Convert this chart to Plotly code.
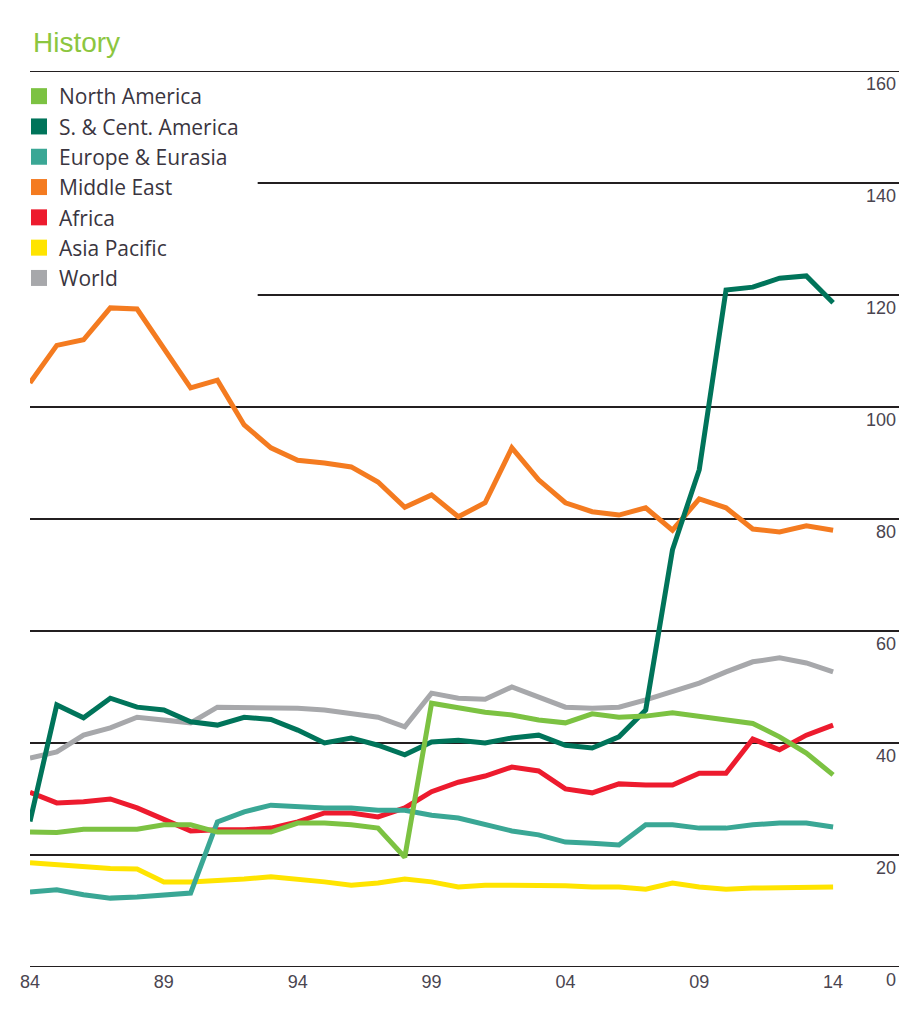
import plotly.graph_objects as go

years = list(range(1984, 2015))

north_america = [24.1, 24.0, 24.6, 24.6, 24.6, 25.4, 25.4, 24.1, 24.1, 24.1, 25.7, 25.7, 25.4, 24.8, 19.6,
                 47.1, 46.3, 45.5, 45.0, 44.1, 43.6, 45.2, 44.6, 44.8, 45.4, 44.7, 44.2, 43.5, 41.1, 38.2, 34.3]
sc_america = [26.0, 46.8, 44.5, 48.0, 46.4, 45.9, 43.8, 43.2, 44.6, 44.2, 42.3, 40.0, 40.9, 39.6, 37.9,
              40.2, 40.5, 40.0, 40.9, 41.4, 39.6, 39.1, 41.1, 45.9, 74.5, 88.8, 120.9, 121.4, 123.0, 123.4, 118.6]
europe_eurasia = [13.4, 13.8, 12.9, 12.3, 12.5, 12.9, 13.2, 25.9, 27.7, 28.9, 28.6, 28.4, 28.4, 28.0, 28.0,
                  27.1, 26.6, 25.4, 24.3, 23.6, 22.3, 22.1, 21.8, 25.4, 25.4, 24.8, 24.8, 25.4, 25.7, 25.7, 25.0]
middle_east = [104.3, 111.0, 112.0, 117.7, 117.5, 110.5, 103.4, 104.8, 96.8, 92.7, 90.5, 90.0, 89.3, 86.6, 82.1,
               84.3, 80.4, 82.9, 92.7, 87.0, 82.9, 81.3, 80.7, 82.0, 78.0, 83.6, 82.0, 78.2, 77.7, 78.8, 78.0]
africa = [31.2, 29.3, 29.5, 30.0, 28.4, 26.3, 24.3, 24.5, 24.5, 24.8, 25.9, 27.5, 27.5, 26.8, 28.4,
          31.3, 33.0, 34.1, 35.7, 35.0, 31.8, 31.1, 32.7, 32.5, 32.5, 34.6, 34.6, 40.7, 38.8, 41.4, 43.2]
asia_pacific = [18.6, 18.2, 17.9, 17.6, 17.5, 15.2, 15.2, 15.4, 15.7, 16.1, 15.7, 15.2, 14.6, 15.0, 15.7,
                15.2, 14.3, 14.6, 14.6, 14.6, 14.5, 14.3, 14.3, 13.9, 15.0, 14.3, 13.9, 14.1, 14.1, 14.3, 14.3]
world = [37.3, 38.4, 41.4, 42.7, 44.6, 44.1, 43.6, 46.4, 46.4, 46.4, 46.2, 45.9, 45.3, 44.6, 42.9,
         48.9, 48.0, 47.8, 50.0, 48.2, 46.4, 46.2, 46.4, 47.7, 49.2, 50.7, 52.7, 54.5, 55.2, 54.3, 52.7]

series_names = ["North America", "S. & Cent. America", "Europe & Eurasia", "Middle East",
                "Africa", "Asia Pacific", "World"]
series_values = [north_america, sc_america, europe_eurasia, middle_east, africa, asia_pacific, world]
series_colors = ["#7cc242", "#00745a", "#3aa795", "#f47b20", "#ed1b2e", "#ffe400", "#a7a8ab"]

x_tick_years = [1984, 1989, 1994, 1999, 2004, 2009, 2014]
x_tick_labels = ["84", "89", "94", "99", "04", "09", "14"]
y_tick_values = [0, 20, 40, 60, 80, 100, 120, 140, 160]
y_tick_labels = ["0", "20", "40", "60", "80", "100", "120", "140", "160"]

FONT = "Liberation Sans, Arial, sans-serif"
LEGEND_FONT = "Open Sans, Liberation Sans, Arial, sans-serif"
TICK_COLOR = "#4a4550"

fig = go.Figure()

draw_order = [6, 5, 4, 2, 3, 1, 0]
for i in draw_order:
    fig.add_trace(go.Scatter(
        x=years, y=series_values[i], mode="lines", name=series_names[i],
        line=dict(color=series_colors[i], width=5), showlegend=False,
        hoverinfo="x+y+name"))

for name, color in zip(series_names, series_colors):
    fig.add_trace(go.Scatter(
        x=[None], y=[None], mode="markers", name=name,
        marker=dict(symbol="square", size=18, color=color), showlegend=True))

# horizontal rules (the 120 and 140 rules stop short of the legend)
grid_start = {120: 0.262, 140: 0.262}
for v in y_tick_values:
    fig.add_shape(type="line", xref="paper", yref="y",
                  x0=grid_start.get(v, 0.0), x1=1.0, y0=v, y1=v,
                  line=dict(color="#231f20", width=2), layer="below")

fig.update_layout(
    width=922, height=1024,
    margin=dict(l=22, r=31, t=63, b=65, autoexpand=False),
    paper_bgcolor="white", plot_bgcolor="white",
    font=dict(family=FONT, color=TICK_COLOR),
    title=dict(text="History", x=25 / 922, xref="container", xanchor="left",
               y=1 - 34 / 1024, yref="container", yanchor="middle",
               font=dict(size=28, color="#8cc63f", family=FONT)),
    showlegend=True,
    legend=dict(x=11 / 922, xref="container", xanchor="left",
                y=1 - 68 / 1024, yref="container", yanchor="top",
                bgcolor="rgba(0,0,0,0)", font=dict(size=21, color="#3a3540", family=LEGEND_FONT),
                tracegroupgap=0, itemsizing="trace"),
    xaxis=dict(range=[1984, 1984 + 869 / 26.77], tickmode="array", tickvals=x_tick_years,
               ticktext=x_tick_labels, showgrid=False, zeroline=False, showline=False,
               ticks="", ticklabelstandoff=2,
               tickfont=dict(size=18, color=TICK_COLOR), fixedrange=True),
    yaxis=dict(range=[0, 160], side="right", tickmode="array", tickvals=y_tick_values,
               ticktext=y_tick_labels, ticklabelposition="inside bottom",
               ticklabeloverflow="allow", showgrid=False, zeroline=False, showline=False,
               ticks="", tickfont=dict(size=18, color=TICK_COLOR), fixedrange=True),
)

fig.write_html("out.html")
